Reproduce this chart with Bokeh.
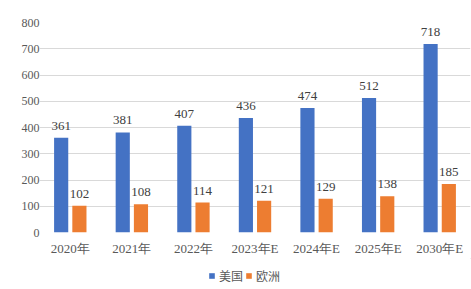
from bokeh.plotting import figure
from bokeh.layouts import column
from bokeh.models import ColumnDataSource, FactorRange, Legend, LegendItem, SingleIntervalTicker
from bokeh.transform import dodge
from bokeh.core.properties import value
from bokeh.embed import file_html
from bokeh.resources import INLINE

categories = ["2020年", "2021年", "2022年", "2023年E", "2024年E", "2025年E", "2030年E"]
usa = [361, 381, 407, 436, 474, 512, 718]
europe = [102, 108, 114, 121, 129, 138, 185]
series_names = ["美国", "欧洲"]
colors = ["#4472C4", "#ED7D31"]

src = ColumnDataSource(dict(cat=categories, usa=usa, europe=europe,
                            usa_t=[str(v) for v in usa], eu_t=[str(v) for v in europe]))

p = figure(width=471, height=258, x_range=FactorRange(*categories), y_range=(0, 800),
           output_backend="svg", toolbar_location=None, sizing_mode="fixed",
           min_border_left=39, min_border_right=1, min_border_top=22, min_border_bottom=25)
p.outline_line_color = None
p.background_fill_color = "white"

off = 0.148
w = 0.23
p.vbar(x=dodge("cat", -off, range=p.x_range), top="usa", width=w, source=src,
       fill_color=colors[0], line_color=None)
p.vbar(x=dodge("cat", off, range=p.x_range), top="europe", width=w, source=src,
       fill_color=colors[1], line_color=None)

for col, t, o in [("usa", "usa_t", -off), ("europe", "eu_t", off)]:
    p.text(x=dodge("cat", o, range=p.x_range), y=col, text=t, source=src,
           text_align="center", text_baseline="bottom", y_offset=-8,
           text_font=value("Liberation Serif"), text_font_size="13px", text_color="#404040")

p.yaxis.ticker = SingleIntervalTicker(interval=100)
p.ygrid.grid_line_color = "#d9d9d9"
p.xgrid.grid_line_color = None
for ax in (p.xaxis, p.yaxis):
    ax.axis_line_color = None
    ax.major_tick_line_color = None
    ax.minor_tick_line_color = None
    ax.major_tick_out = 0
    ax.major_tick_in = 0
    ax.major_label_text_font = "Liberation Serif"
    ax.major_label_text_color = "#595959"
p.yaxis.major_label_text_font_size = "12px"
p.xaxis.major_label_text_font_size = "13px"
p.yaxis.major_label_standoff = -4
p.xaxis.major_label_standoff = 8

# legend strip
lg = figure(width=471, height=31, x_range=(0, 1), y_range=(0, 1),
            output_backend="svg", toolbar_location=None, sizing_mode="fixed",
            min_border_left=0, min_border_right=0, min_border_top=0, min_border_bottom=0)
lg.axis.visible = False
lg.grid.visible = False
lg.outline_line_color = None
rs = [lg.vbar(x=[5], top=[5], bottom=[4], width=0.1, fill_color=c, line_color=None)
      for c in colors]
legend = Legend(items=[LegendItem(label=n, renderers=[r]) for n, r in zip(series_names, rs)],
                orientation="horizontal", location=(169, 5),
                label_text_font="Noto Sans CJK SC", label_text_font_size="12px",
                label_text_color="#595959", glyph_width=7, glyph_height=7,
                label_standoff=4, spacing=2, padding=0, margin=0,
                label_height=14, border_line_color=None, background_fill_alpha=0)
lg.add_layout(legend)

open("out.html", "w").write(file_html(column(p, lg, spacing=0), INLINE))
